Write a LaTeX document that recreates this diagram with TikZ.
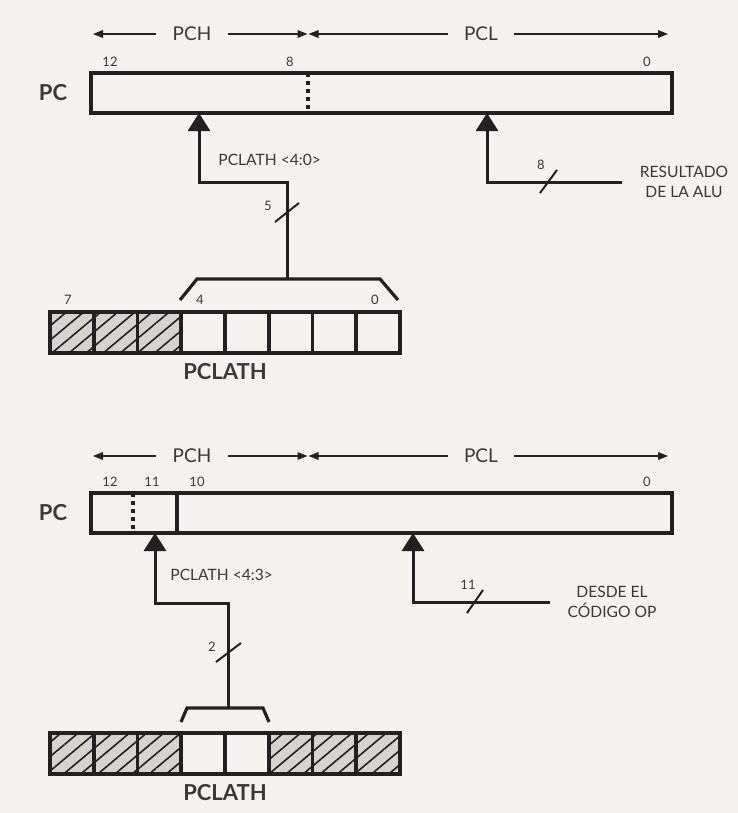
\documentclass[tikz,border=0pt]{standalone}
\usepackage{fontspec}
\setmainfont{Lato}
\usepackage{tikz}
\usetikzlibrary{arrows.meta, patterns.meta, positioning}

\definecolor{ink}{RGB}{34,32,32}
\definecolor{txt}{RGB}{58,56,56}
\definecolor{paper}{RGB}{243,242,239}
\definecolor{shade}{RGB}{212,211,208}

\tikzstyle{reg} = [rectangle,
draw=ink,
line width=1.8pt,
inner sep=0pt,
minimum width=290.5pt,
minimum height=20pt]
\tikzstyle{bitcell} = [rectangle,
draw=ink,
line width=1.8pt,
inner sep=0pt,
minimum width=21.875pt,
minimum height=20.5pt]
\tikzstyle{hatch} = [bitcell,
preaction={fill=shade},
pattern={Lines[angle=40,distance=5.5pt,line width=0.8pt]},
pattern color=ink]
\tikzstyle{bus} = [draw=ink, line width=1.5pt]
\tikzstyle{slash} = [draw=ink, line width=1pt]
\tikzstyle{bracket} = [draw=ink, line width=1.6pt]
\tikzstyle{divider} = [draw=ink, line width=1.8pt, dash pattern=on 2.2pt off 1.8pt]
\tikzstyle{fieldarrow} = [draw=ink, line width=0.6pt,
-{Triangle[length=5pt,width=3.8pt]}]
\tikzstyle{field} = [font=\fontsize{9.5}{11}\selectfont, text=txt, inner xsep=8pt]
\tikzstyle{bits} = [font=\fontsize{6.5}{7}\selectfont, text=txt, inner sep=0pt]
\tikzstyle{lbl} = [font=\fontsize{7.8}{10}\selectfont, text=txt, align=center, inner sep=0pt]
\tikzstyle{regname} = [font=\bfseries\fontsize{11}{13}\selectfont, text=txt, inner sep=0pt]

\begin{document}
\begin{tikzpicture}[x=0.5pt, y=-0.5pt,
    >={Triangle[width=11pt,length=9pt]}
    ]
    \useasboundingbox[fill=paper] (0,0) rectangle (738,813);

    % upper figure: PCLATH<4:0> + ALU result
    \node (pch1) [field] at (192,34) {PCH};
    \node (pcl1) [field] at (481,34) {PCL};
    \coordinate (ha) at (93,34);
    \coordinate (hb) at (307.5,34);
    \coordinate (la) at (308.5,34);
    \coordinate (lb) at (668,34);
    \draw[fieldarrow] (pch1) -- (ha);
    \draw[fieldarrow] (pch1) -- (hb);
    \draw[fieldarrow] (pcl1) -- (la);
    \draw[fieldarrow] (pcl1) -- (lb);

    \node (pc1) [reg] at (381.5,93) {};
    \node (pctag1) [regname] at (53,93) {PC};
    \node (n12a) [bits] at (110,62) {12};
    \node (n8a) [bits] at (290,62) {8};
    \node (n0a) [bits] at (647,62) {0};
    \coordinate (d8) at (308,73);
    \draw[divider] (d8) -- (d8 |- pc1.south);

    % ALU input
    \coordinate (alu) at (622,182);
    \coordinate (bend2) at (487,182);
    \coordinate (in2) at (487,113);
    \draw[bus,->] (alu) -- (bend2) -- (in2);
    \draw[slash] (540,193) -- (557,170);
    \node (w8) [bits] at (541,165) {8};
    \node (alutxt) [lbl] at (684,182) {RESULTADO\\DE LA ALU};

    % PCLATH register
    \foreach \i/\s in {0/hatch,1/hatch,2/hatch,3/bitcell,4/bitcell,5/bitcell,6/bitcell,7/bitcell}
        \node (ra\i) [\s] at ({71.875+43.75*\i},332.5) {};
    \node (n7a) [bits] at (68,300) {7};
    \node (n4a) [bits] at (200,300) {4};
    \node (n0b) [bits] at (375,300) {0};
    \node (taga) [regname] at (225,372) {PCLATH};

    \coordinate (bra) at (287,279);
    \coordinate (bend1) at (199,182);
    \coordinate (in1) at (199,113);
    \draw[bracket] (180,300) -- (197,279) -- (380,279) -- (398,300);
    \draw[bus,->] (bra) |- (bend1) -- (in1);
    \draw[slash] (275,222) -- (299,203);
    \node (w5) [bits] at (268,206) {5};
    \node (lab1) [lbl, anchor=west] at (218,160) {PCLATH <4:0>};

    % lower figure: PCLATH<4:3> + opcode
    \node (pch2) [field] at (192,456) {PCH};
    \node (pcl2) [field] at (481,456) {PCL};
    \coordinate (hc) at (93,456);
    \coordinate (hd) at (307.5,456);
    \coordinate (lc) at (308.5,456);
    \coordinate (ld) at (668,456);
    \draw[fieldarrow] (pch2) -- (hc);
    \draw[fieldarrow] (pch2) -- (hd);
    \draw[fieldarrow] (pcl2) -- (lc);
    \draw[fieldarrow] (pcl2) -- (ld);

    \node (pc2) [reg] at (381.5,513) {};
    \node (pctag2) [regname] at (53,513) {PC};
    \node (n12b) [bits] at (110,482) {12};
    \node (n11b) [bits] at (152,482) {11};
    \node (n10b) [bits] at (197,482) {10};
    \node (n0c) [bits] at (647,482) {0};
    \coordinate (d11) at (133,493);
    \coordinate (d10) at (177,493);
    \draw[divider] (d11) -- (d11 |- pc2.south);
    \draw[ink, line width=1.8pt] (d10) -- (d10 |- pc2.south);

    % opcode input
    \coordinate (op) at (550,602);
    \coordinate (bend4) at (413,602);
    \coordinate (in4) at (413,533);
    \draw[bus,->] (op) -- (bend4) -- (in4);
    \draw[slash] (467,613) -- (483,590);
    \node (w11) [bits] at (468,585) {11};
    \node (optxt) [lbl] at (612,602) {DESDE EL\\CÓDIGO OP};

    \foreach \i/\s in {0/hatch,1/hatch,2/hatch,3/bitcell,4/bitcell,5/hatch,6/hatch,7/hatch}
        \node (rb\i) [\s] at ({71.875+43.75*\i},753.5) {};
    \node (tagb) [regname] at (225,793) {PCLATH};

    \coordinate (brb) at (228,708);
    \coordinate (bend3) at (155,603);
    \coordinate (in3) at (155,533);
    \draw[bracket] (181,722) -- (187,708) -- (263,708) -- (269,722);
    \draw[bus,->] (brb) |- (bend3) -- (in3);
    \draw[slash] (216,662) -- (241,643);
    \node (w2) [bits] at (212,647) {2};
    \node (lab2) [lbl, anchor=west] at (170,575) {PCLATH <4:3>};

\end{tikzpicture}
\end{document}
